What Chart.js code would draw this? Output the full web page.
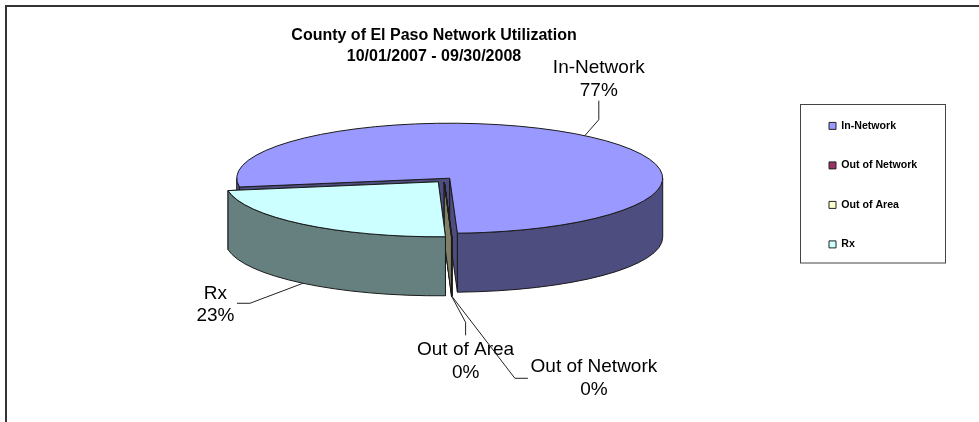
<!DOCTYPE html>
<html>
<head>
<meta charset="utf-8">
<style>html,body{margin:0;padding:0;background:#fff}canvas{display:block}</style>
<script src="https://cdn.jsdelivr.net/npm/chart.js@4/dist/chart.umd.js"></script>
</head>
<body>
<canvas id="c" width="979" height="422"></canvas>
<script>
const categories = ['In-Network', 'Out of Network', 'Out of Area', 'Rx'];
const shares = [76.98, 0.02, 0.02, 22.98];
const titleLines = ['County of El Paso Network Utilization', '10/01/2007 - 09/30/2008'];
const topColors = ['#9999FF', '#993366', '#FFFFCC', '#CCFFFF'];
const wallColors = ['#4D4D80', '#4D1A33', '#808066', '#668080'];

// Leader elbow, leader end and label centre, as offsets from each slice's edge
const leaderBends = [[14, -16], [63, 82], [14, 26], [-53, 20]];
const leaderEnds = [[14, -35], [76, 82], [14, 39], [-66, 20]];
const labelOffsets = [[14, -67.7], [142, 70.5], [14, 53.5], [-87.5, 10]];

const CX = 444, CY = 180, RADIUS = 213, SQUASH = 55 / 213, DEPTH = 59, EXPLODE = 9;
const FONT = '"Liberation Sans", Arial, sans-serif';
const INK = '#1a1a1a';

function wedge(arc) {
  return {
    x: arc.x, y: CY + SQUASH * (arc.y - CY), rx: arc.outerRadius, ry: arc.outerRadius * SQUASH,
    a0: arc.startAngle, a1: arc.endAngle
  };
}
function rim(w, a) { return [w.x + w.rx * Math.cos(a), w.y + w.ry * Math.sin(a)]; }

function face(ctx, w, a, fill) {
  const p = rim(w, a);
  ctx.beginPath();
  ctx.moveTo(w.x, w.y);
  ctx.lineTo(p[0], p[1]);
  ctx.lineTo(p[0], p[1] + DEPTH);
  ctx.lineTo(w.x, w.y + DEPTH);
  ctx.closePath();
  ctx.fillStyle = fill;
  ctx.fill();
  ctx.stroke();
}
function outerWall(ctx, w, fill) {
  for (let n = -1; n <= 2; n++) {
    const lo = Math.max(w.a0, 2 * Math.PI * n), hi = Math.min(w.a1, 2 * Math.PI * n + Math.PI);
    if (hi <= lo) continue;
    ctx.beginPath();
    ctx.ellipse(w.x, w.y, w.rx, w.ry, 0, lo, hi);
    ctx.ellipse(w.x, w.y + DEPTH, w.rx, w.ry, 0, hi, lo, true);
    ctx.closePath();
    ctx.fillStyle = fill;
    ctx.fill();
    ctx.stroke();
  }
}

const pie3d = {
  id: 'pie3d',
  afterLayout(chart) {
    Object.assign(chart.chartArea, {
      left: CX - 300, right: CX + 300, top: CY - 150, bottom: CY + 150, width: 600, height: 300
    });
    const lg = chart.legend;
    lg.left = 800.1; lg.right = 960; lg.top = 91.7; lg.bottom = 300;
    const t = chart.titleBlock;
    t.left = 134; t.right = 734; t.top = 25; t.bottom = 68;
  },
  afterDatasetUpdate(chart) {
    chart.getDatasetMeta(0).data.forEach(arc => {
      const mid = (arc.startAngle + arc.endAngle) / 2;
      arc.x += EXPLODE * Math.cos(mid);
      arc.y += EXPLODE * Math.sin(mid);
    });
  },
  beforeDraw(chart) {
    const ctx = chart.ctx;
    ctx.save();
    ctx.strokeStyle = '#333';
    ctx.lineWidth = 2;
    ctx.beginPath();
    ctx.moveTo(6, 422);
    ctx.lineTo(6, 6);
    ctx.lineTo(979, 6);
    ctx.stroke();
    ctx.lineWidth = 1;
    ctx.strokeStyle = '#444';
    ctx.strokeRect(800.5, 104.5, 145, 158.5);
    ctx.restore();
  },
  beforeDatasetsDraw(chart) {
    const ctx = chart.ctx;
    ctx.save();
    ctx.strokeStyle = INK;
    ctx.lineWidth = 1;
    ctx.lineJoin = 'round';
    chart.getDatasetMeta(0).data.forEach((arc, i) => {
      const w = wedge(arc);
      face(ctx, w, w.a0, wallColors[i]);
      face(ctx, w, w.a1, wallColors[i]);
      outerWall(ctx, w, wallColors[i]);
    });
    ctx.restore();
    ctx.save();
    ctx.translate(0, CY);
    ctx.scale(1, SQUASH);
    ctx.translate(0, -CY);
  },
  afterDatasetsDraw(chart) {
    const ctx = chart.ctx;
    ctx.restore();
    ctx.save();
    const arcs = chart.getDatasetMeta(0).data;
    ctx.strokeStyle = INK;
    ctx.lineWidth = 1;
    ctx.lineJoin = 'round';
    arcs.forEach(arc => {
      const w = wedge(arc);
      ctx.beginPath();
      ctx.moveTo(w.x, w.y);
      ctx.ellipse(w.x, w.y, w.rx, w.ry, 0, w.a0, w.a1);
      ctx.closePath();
      ctx.stroke();
    });
    const total = shares.reduce((a, b) => a + b, 0);
    ctx.font = '19px ' + FONT;
    ctx.textAlign = 'center';
    ctx.textBaseline = 'middle';
    ctx.fillStyle = '#000';
    const anchors = arcs.map(arc => {
      const w = wedge(arc), mid = (w.a0 + w.a1) / 2;
      const p = rim(w, mid);
      return [p[0], p[1] + (Math.sin(mid) > 0 ? DEPTH : 0)];
    });
    anchors.forEach((p, i) => {
      const lx = p[0] + labelOffsets[i][0], ly = p[1] + labelOffsets[i][1];
      ctx.fillText(categories[i], lx, ly);
      ctx.fillText(Math.round(shares[i] / total * 100) + '%', lx, ly + 22.5);
    });
    ctx.strokeStyle = '#222';
    anchors.forEach((p, i) => {
      ctx.beginPath();
      ctx.moveTo(p[0], p[1]);
      ctx.lineTo(p[0] + leaderBends[i][0], p[1] + leaderBends[i][1]);
      ctx.lineTo(p[0] + leaderEnds[i][0], p[1] + leaderEnds[i][1]);
      ctx.stroke();
    });
    ctx.restore();
  }
};

new Chart(document.getElementById('c'), {
  type: 'pie',
  data: {
    labels: categories,
    datasets: [{
      data: shares,
      backgroundColor: topColors,
      borderWidth: 0,
      radius: RADIUS,
      clip: false
    }]
  },
  options: {
    responsive: false,
    animation: false,
    rotation: 260.8,
    events: [],
    plugins: {
      tooltip: { enabled: false },
      title: {
        display: true,
        text: titleLines,
        color: '#000',
        padding: 0,
        font: { family: FONT, size: 16, weight: 'bold', lineHeight: 1.3 }
      },
      legend: {
        position: 'right',
        align: 'start',
        labels: {
          boxWidth: 7,
          boxHeight: 7,
          padding: 28.9,
          color: '#000',
          font: { family: FONT, size: 10.6, weight: 'bold' },
          generateLabels(chart) {
            return Chart.overrides.doughnut.plugins.legend.labels.generateLabels(chart).map(item => {
              item.strokeStyle = '#222';
              item.lineWidth = 1;
              return item;
            });
          }
        }
      }
    }
  },
  plugins: [pie3d]
});
</script>
</body>
</html>
